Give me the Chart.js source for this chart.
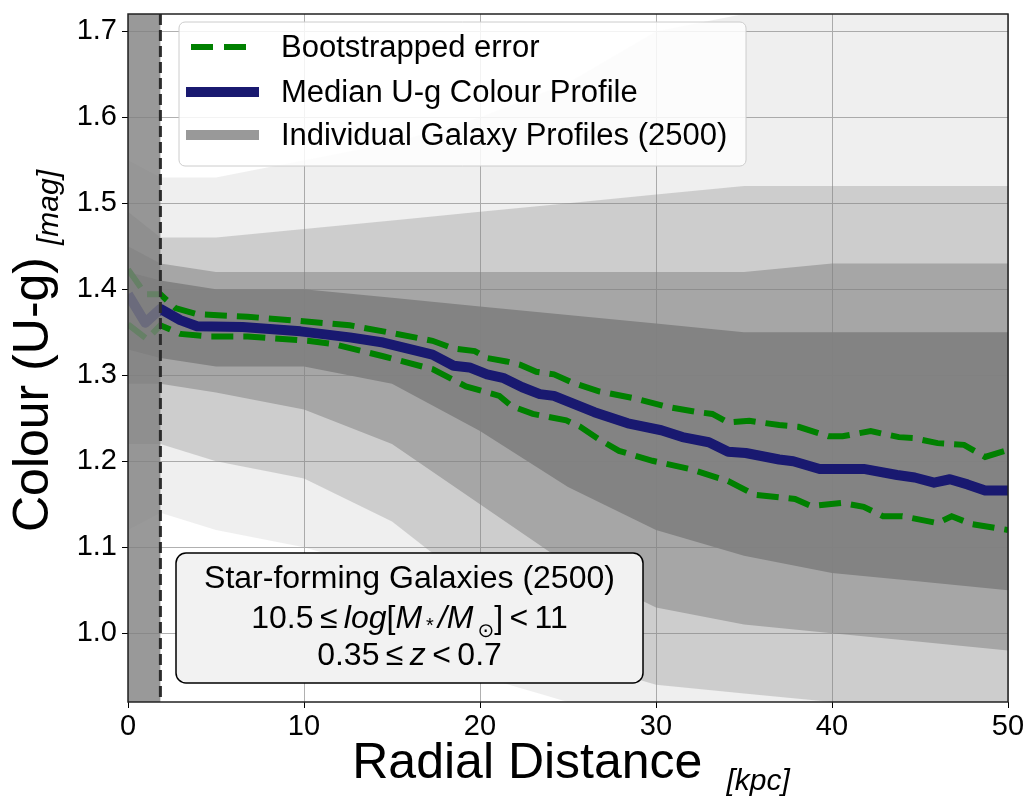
<!DOCTYPE html>
<html>
<head>
<meta charset="utf-8">
<script src="https://cdn.jsdelivr.net/npm/chart.js@4.4.0/dist/chart.umd.min.js"></script>
<style>
    html, body { margin: 0; padding: 0; background: #fff; }
    #wrap { width: 1028px; height: 796px; }
</style>
</head>
<body>
<div id="wrap"><canvas id="colourChart" width="1028" height="796"></canvas></div>
<script>
// median profile (kpc, mag)
const medianX = [0, 0.98, 1.84, 2.97, 3.92, 6.5, 9.8, 12.6, 14.5, 17.3, 18.5, 19.4, 20.4, 21.3, 22.4, 23.4, 24.2,
    26.5, 28.4, 30.3, 31.5, 33, 34.1, 35.1, 37, 37.8, 39.3, 41.8, 43.7, 44.7, 45.8, 46.7, 47.7, 48.7, 50];
const medianY = [1.394, 1.361, 1.377, 1.364, 1.357, 1.356, 1.351, 1.344, 1.338, 1.324, 1.311, 1.309, 1.301, 1.297,
    1.286, 1.278, 1.276, 1.257, 1.244, 1.236, 1.228, 1.222, 1.211, 1.2095, 1.202, 1.2, 1.191, 1.191, 1.184, 1.181,
    1.175, 1.179, 1.173, 1.166, 1.166];

// bootstrapped error, upper and lower
const upperX = [0, 1.0, 1.84, 2.7, 3.9, 6.8, 9.8, 12.6, 14.5, 17.3, 18.5, 19.7, 20.4, 21.5, 22.3, 23.2, 24.2, 25.3,
    26.8, 28.8, 30.7, 32.4, 33.2, 34.1, 35.3, 37, 38.1, 39.8, 40.6, 42.2, 43.8, 44.6, 46, 47.5, 48.7, 50];
const upperY = [1.423, 1.394, 1.394, 1.378, 1.371, 1.368, 1.363, 1.358, 1.351, 1.34, 1.331, 1.328, 1.32, 1.316,
    1.312, 1.304, 1.301, 1.291, 1.281, 1.273, 1.263, 1.257, 1.255, 1.245, 1.247, 1.242, 1.24, 1.229, 1.229, 1.235,
    1.228, 1.227, 1.221, 1.219, 1.205, 1.213];
const lowerX = [0, 1.08, 1.84, 2.97, 4.7, 6.8, 10.2, 11.7, 14.5, 17.3, 19.2, 21.1, 21.8, 23, 24.9, 25.7, 26.8, 27.9,
    29.8, 31.9, 34.1, 35.6, 37.9, 38.8, 40.6, 41.8, 42.9, 44, 46, 46.8, 47.9, 50];
const lowerY = [1.359, 1.342, 1.358, 1.348, 1.345, 1.345, 1.34, 1.336, 1.322, 1.307, 1.287, 1.276, 1.264, 1.255,
    1.2475, 1.24, 1.225, 1.212, 1.2005, 1.191, 1.177, 1.161, 1.156, 1.148, 1.1515, 1.147, 1.136, 1.136, 1.128,
    1.136, 1.127, 1.12];

// spread of the individual galaxy profiles, read as density envelopes
const bandX   = [0, 1.84, 5, 10, 15, 20, 25, 30, 35, 40, 45, 50];
const coreHi  = [1.42, 1.41, 1.40, 1.40, 1.39, 1.38, 1.37, 1.36, 1.35, 1.35, 1.35, 1.35];
const coreLo  = [1.33, 1.32, 1.31, 1.31, 1.29, 1.235, 1.17, 1.12, 1.09, 1.07, 1.06, 1.05];
const midHi   = [1.45, 1.43, 1.42, 1.42, 1.42, 1.42, 1.42, 1.42, 1.42, 1.43, 1.43, 1.43];
const midLo   = [1.29, 1.29, 1.28, 1.26, 1.22, 1.15, 1.08, 1.03, 1.01, 1.00, 0.99, 0.98];
const outerHi = [1.49, 1.46, 1.46, 1.47, 1.48, 1.49, 1.50, 1.51, 1.52, 1.52, 1.52, 1.52];
const outerLo = [1.22, 1.22, 1.20, 1.18, 1.13, 1.05, 0.97, 0.94, 0.93, 0.92, 0.92, 0.92];
const faintHi = [1.55, 1.53, 1.53, 1.55, 1.57, 1.60, 1.64, 1.70, 1.72, 1.72, 1.72, 1.72];
const faintLo = [1.12, 1.14, 1.12, 1.10, 1.07, 0.95, 0.92, 0.92, 0.92, 0.92, 0.92, 0.92];

const innerLimit = 1.84; // shaded inner region (kpc)
const xTicks = [0, 10, 20, 30, 40, 50];
const yTicks = [1.0, 1.1, 1.2, 1.3, 1.4, 1.5, 1.6, 1.7];
const legendLabels = ['Bootstrapped error', 'Median U-g Colour Profile', 'Individual Galaxy Profiles (2500)'];

const FONT = "'Liberation Sans', Arial, 'DejaVu Sans', sans-serif";
const pts = (xs, ys) => xs.map((x, i) => ({ x: x, y: ys[i] }));

function band(hi, lo, color, order) {
    return [
        { data: pts(bandX, hi), borderWidth: 0, pointRadius: 0, backgroundColor: color, fill: '+1', order: order },
        { data: pts(bandX, lo), borderWidth: 0, pointRadius: 0, fill: false, order: order }
    ];
}

// draw text pieces with different fonts on one baseline, centred on cx
function drawRuns(ctx, runs, cx, by) {
    let total = 0;
    runs.forEach(r => { ctx.font = r.font; total += ctx.measureText(r.t).width + (r.gap || 0); });
    let x = cx - total / 2;
    ctx.textAlign = 'left';
    ctx.textBaseline = 'alphabetic';
    runs.forEach(r => {
        ctx.font = r.font;
        x += r.gap || 0;
        ctx.fillText(r.t, x, by + (r.dy || 0));
        x += ctx.measureText(r.t).width;
    });
}

function roundRect(ctx, x, y, w, h, r) {
    ctx.beginPath();
    ctx.moveTo(x + r, y);
    ctx.arcTo(x + w, y, x + w, y + h, r);
    ctx.arcTo(x + w, y + h, x, y + h, r);
    ctx.arcTo(x, y + h, x, y, r);
    ctx.arcTo(x, y, x + w, y, r);
    ctx.closePath();
}

const overlay = {
    id: 'overlay',
    afterDatasetsDraw(chart) {
        const { ctx, chartArea: a, scales } = chart;
        const xs = scales.x.getPixelForValue(innerLimit);
        ctx.save();
        ctx.fillStyle = 'rgba(128,128,128,0.8)';
        ctx.fillRect(a.left, a.top, xs - a.left, a.bottom - a.top);
        ctx.strokeStyle = '#2b2b2b';
        ctx.lineWidth = 3;
        ctx.setLineDash([11, 5]);
        ctx.beginPath();
        ctx.moveTo(xs, a.top);
        ctx.lineTo(xs, a.bottom);
        ctx.stroke();
        ctx.setLineDash([]);
        ctx.strokeStyle = '#222';
        ctx.lineWidth = 1.5;
        ctx.strokeRect(a.left, a.top, a.right - a.left, a.bottom - a.top);
        ctx.restore();
    },
    afterDraw(chart) {
        const { ctx, chartArea: a } = chart;
        ctx.save();

        // legend
        const lx = a.left + 51, ly = a.top + 8;
        roundRect(ctx, lx, ly, 567, 144, 6);
        ctx.fillStyle = 'rgba(255,255,255,0.85)';
        ctx.fill();
        ctx.strokeStyle = '#cccccc';
        ctx.lineWidth = 1;
        ctx.stroke();
        const rows = [ly + 25, ly + 70, ly + 113];
        ctx.lineCap = 'butt';
        ctx.strokeStyle = '#008000';
        ctx.lineWidth = 6;
        ctx.setLineDash([22, 11]);
        ctx.beginPath(); ctx.moveTo(lx + 12, rows[0]); ctx.lineTo(lx + 69, rows[0]); ctx.stroke();
        ctx.setLineDash([]);
        ctx.strokeStyle = '#191970';
        ctx.lineWidth = 10;
        ctx.beginPath(); ctx.moveTo(lx + 7, rows[1]); ctx.lineTo(lx + 80, rows[1]); ctx.stroke();
        ctx.strokeStyle = '#999999';
        ctx.beginPath(); ctx.moveTo(lx + 7, rows[2]); ctx.lineTo(lx + 80, rows[2]); ctx.stroke();
        ctx.fillStyle = '#000';
        ctx.font = '31px ' + FONT;
        ctx.textAlign = 'left';
        ctx.textBaseline = 'middle';
        legendLabels.forEach((t, i) => ctx.fillText(t, lx + 102, rows[i] + 1));

        // sample description box
        const bx = a.left + 48, by = a.bottom - 149, bw = 467, bh = 130;
        roundRect(ctx, bx, by, bw, bh, 10);
        ctx.fillStyle = '#f2f2f2';
        ctx.fill();
        ctx.strokeStyle = '#000';
        ctx.lineWidth = 1.5;
        ctx.stroke();
        ctx.fillStyle = '#000';
        const reg = '32px ' + FONT, ital = 'italic 32px ' + FONT, small = '20px ' + FONT;
        const cx = bx + bw / 2;
        drawRuns(ctx, [{ t: 'Star-forming Galaxies (2500)', font: reg }], cx, by + 35);
        drawRuns(ctx, [
            { t: '10.5\u2009\u2264\u2009', font: reg }, { t: 'log', font: ital }, { t: '[', font: reg },
            { t: 'M', font: ital }, { t: '\u2009*\u2009', font: small, dy: 4 }, { t: '/', font: ital },
            { t: 'M', font: ital }, { t: '\u2009\u2299', font: small, dy: 9 }, { t: ']\u2009<\u200911', font: reg }
        ], cx, by + 75);
        drawRuns(ctx, [
            { t: '0.35\u2009\u2264\u2009', font: reg }, { t: 'z', font: ital }, { t: '\u2009<\u20090.7', font: reg }
        ], cx, by + 112);

        // axis titles
        const big = '50px ' + FONT, sub = 'italic 30px ' + FONT;
        drawRuns(ctx, [{ t: 'Radial Distance', font: big }, { t: '[kpc]', font: sub, dy: 12, gap: 24 }],
            (a.left + a.right) / 2 + 3, 778);
        ctx.translate(48, (a.top + a.bottom) / 2 - 7);
        ctx.rotate(-Math.PI / 2);
        drawRuns(ctx, [{ t: 'Colour (U-g)', font: big }, { t: '[mag]', font: sub, dy: 10, gap: 12 }], 0, 0);
        ctx.restore();
    }
};

const ctx = document.getElementById('colourChart').getContext('2d');
const colourChart = new Chart(ctx, {
    type: 'line',
    data: {
        datasets: [
            { label: legendLabels[1], data: pts(medianX, medianY), borderColor: '#191970', borderWidth: 10,
              pointRadius: 0, fill: false, borderJoinStyle: 'round', order: 0 },
            { label: legendLabels[0], data: pts(upperX, upperY), borderColor: '#008000', borderWidth: 6,
              borderDash: [22, 10], pointRadius: 0, fill: false, order: 1 },
            { label: 'lower', data: pts(lowerX, lowerY), borderColor: '#008000', borderWidth: 6,
              borderDash: [22, 10], pointRadius: 0, fill: false, order: 1 },
            ...band(coreHi, coreLo, 'rgba(128,128,128,0.9)', 7),
            ...band(midHi, midLo, 'rgba(128,128,128,0.5)', 8),
            ...band(outerHi, outerLo, 'rgba(128,128,128,0.3)', 9),
            ...band(faintHi, faintLo, 'rgba(128,128,128,0.13)', 10)
        ]
    },
    options: {
        responsive: false,
        animation: false,
        devicePixelRatio: 1,
        layout: { padding: { left: 0, right: 20, top: 14, bottom: 0 } },
        scales: {
            x: {
                type: 'linear',
                min: 0,
                max: 50,
                afterBuildTicks: s => { s.ticks = xTicks.map(v => ({ value: v })); },
                afterFit: s => { s.height = 94; s.paddingLeft = 0; s.paddingRight = 0; },
                ticks: { color: '#000', font: { family: FONT, size: 29 }, padding: 2, maxRotation: 0 },
                grid: { color: '#b0b0b0', lineWidth: 1, tickColor: '#000', tickLength: 6 },
                border: { display: false }
            },
            y: {
                min: 0.92,
                max: 1.72,
                afterBuildTicks: s => { s.ticks = yTicks.map(v => ({ value: v })); },
                afterFit: s => { s.width = 128; s.paddingTop = 0; s.paddingBottom = 0; },
                ticks: { color: '#000', font: { family: FONT, size: 29 }, padding: 5,
                         callback: v => v.toFixed(1) },
                grid: { color: '#b0b0b0', lineWidth: 1, tickColor: '#000', tickLength: 6 },
                border: { display: false }
            }
        },
        plugins: {
            legend: { display: false },
            tooltip: { enabled: false }
        }
    },
    plugins: [overlay]
});
</script>
</body>
</html>
